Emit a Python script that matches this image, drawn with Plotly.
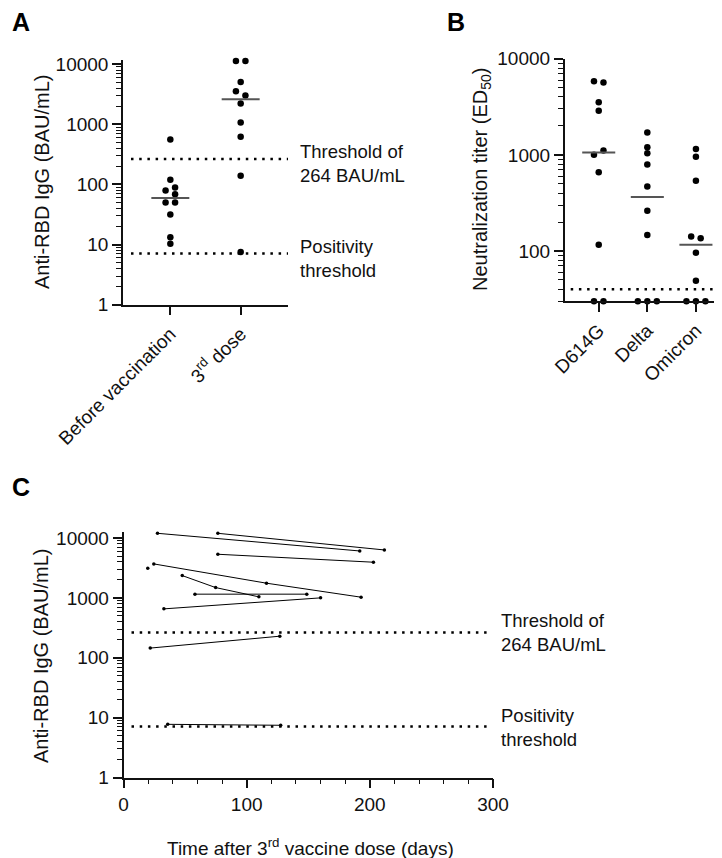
import numpy as np
import plotly.graph_objects as go

W, H = 722, 858
FONT = "Liberation Sans, Arial, Helvetica, sans-serif"

# ---------------- data ----------------
# Panel A: anti-RBD IgG (BAU/mL)
A_CATEGORIES = ["Before vaccination", "3<sup>rd</sup> dose"]
A_BEFORE = [560, 120, 89, 79, 69, 50, 50, 31.7, 13.3, 10.3]
A_THIRD = [3010, 3560, 11360, 11360, 5080, 2220, 1072, 620, 139, 7.5]
A_THRESHOLDS = [264, 7.1]
A_THRESHOLD_LABELS = ["Threshold of<br>264 BAU/mL", "Positivity<br>threshold"]

# Panel B: neutralization titer (ED50); 30 = plotted on the axis (below detection)
B_CATEGORIES = ["D614G", "Delta", "Omicron"]
B_D614G = [5640, 5820, 3530, 2880, 1110, 1000, 660, 116, 30, 30]
B_DELTA = [1706, 1202, 1040, 794, 469, 262, 147, 30, 30, 30]
B_OMICRON = [1154, 953, 537, 136, 142, 96, 49, 30, 30, 30]
B_THRESHOLD = 40

# Panel C: follow-up per subject (days after 3rd dose, BAU/mL)
C_DAYS = [
    [27.6, 191.8],
    [76.6, 211.8],
    [76.6, 202.9],
    [19.7],
    [24.6, 116.1, 192.9],
    [47.7, 74.8, 109.9],
    [58.0, 148.8],
    [32.8, 160.0],
    [21.7, 126.9],
    [35.9, 127.6],
]
C_VALUES = [
    [11970, 6070],
    [11970, 6310],
    [5350, 3940],
    [3130],
    [3690, 1758, 1026],
    [2355, 1486, 1040],
    [1153, 1153],
    [655, 1000],
    [145, 229],
    [7.73, 7.45],
]
C_THRESHOLDS = [264, 7.1]
C_THRESHOLD_LABELS = ["Threshold of<br>264 BAU/mL", "Positivity<br>threshold"]

# ---------------- layout geometry (pixels) ----------------
def fx(px):
    return px / W


def fy(py):
    return 1 - py / H


A_BOX = dict(x0=115, x1=280, y0=296.7, y1=51.7)
A_XR = [-0.673, 1.673]
A_YR = [0, 4.075]

B_BOX = dict(x0=556.7, x1=720, y0=293.3, y1=50.7)
B_XR = [-0.70, 2.66]
B_YR = [np.log10(30), 4.0]

C_BOX = dict(x0=115.5, x1=485, y0=769.5, y1=524)
C_XR = [0, 300]
C_YR = [0, 4.1]


def px_per_unit(box, xr):
    return (box["x1"] - box["x0"]) / (xr[1] - xr[0])


def px_per_decade(box, yr):
    return (box["y0"] - box["y1"]) / (yr[1] - yr[0])


def swarm_offsets(values, ppd, ppu, gap_px=5.0, step_px=9.5):
    """GraphPad-like horizontal spreading of overlapping dots."""
    n = len(values)
    y = np.log10(np.asarray(values, dtype=float)) * ppd
    order = sorted(range(n), key=lambda i: -y[i])
    clusters, cur = [], [order[0]]
    for a, b in zip(order[:-1], order[1:]):
        if abs(y[a] - y[b]) < gap_px:
            cur.append(b)
        else:
            clusters.append(cur)
            cur = [b]
    clusters.append(cur)
    off = np.zeros(n)
    step = step_px / ppu
    for c in clusters:
        if len(c) == 1:
            continue
        cd = sorted(c)
        vals = [values[i] for i in cd]
        if len(set(vals)) == 1:
            k = len(cd)
            for j, i in enumerate(cd):
                off[i] = (j - (k - 1) / 2) * step
        else:
            for j, i in enumerate(cd):
                off[i] = (0.5 if j % 2 == 0 else -0.5) * step
    return off


def log_minor_vals(yr):
    vals = []
    for p in range(int(np.floor(yr[0])) - 1, int(np.ceil(yr[1])) + 1):
        for k in range(2, 10):
            v = k * 10.0 ** p
            if yr[0] <= np.log10(v) <= yr[1]:
                vals.append(v)
    return vals


fig = go.Figure()

AXLINE = dict(showline=True, linecolor="#111", linewidth=1.5, ticks="outside",
              ticklen=9, tickwidth=1.5, tickcolor="#111", showgrid=False,
              zeroline=False, mirror=False, automargin=False,
              tickfont=dict(family=FONT, size=19, color="#111"))
DOT = "2.5px,5.7px"


def log_minor(yr):
    return dict(ticks="outside", ticklen=5, tickwidth=1.2, tickcolor="#111",
                tickmode="array", tickvals=log_minor_vals(yr), showgrid=False)


def scatter_panel(groups, xa, ya, box, xr, yr, half_w):
    ppu = px_per_unit(box, xr)
    ppd = px_per_decade(box, yr)
    for i, vals in enumerate(groups):
        off = swarm_offsets(vals, ppd, ppu)
        fig.add_trace(go.Scatter(
            x=i + off, y=vals, mode="markers", xaxis=xa, yaxis=ya,
            marker=dict(size=6.5, color="black"), cliponaxis=False,
            showlegend=False, hoverinfo="skip"))
        med = float(np.median(vals))
        fig.add_trace(go.Scatter(
            x=[i - half_w, i + half_w], y=[med, med], mode="lines",
            xaxis=xa, yaxis=ya, line=dict(color="#555", width=2),
            showlegend=False, hoverinfo="skip"))


def threshold_lines(values, xa, ya, x_from, x_to):
    for v in values:
        fig.add_trace(go.Scatter(
            x=[x_from, x_to], y=[v, v], mode="lines", xaxis=xa, yaxis=ya,
            line=dict(color="black", width=2.5, dash=DOT),
            showlegend=False, hoverinfo="skip"))


# Panel A
scatter_panel([A_BEFORE, A_THIRD], "x", "y", A_BOX, A_XR, A_YR, 0.27)
a_pad = 8 / px_per_unit(A_BOX, A_XR)
threshold_lines(A_THRESHOLDS, "x", "y", A_XR[0] + a_pad, A_XR[1])

# Panel B
scatter_panel([B_D614G, B_DELTA, B_OMICRON], "x2", "y2", B_BOX, B_XR, B_YR, 0.34)
b_pad = 6 / px_per_unit(B_BOX, B_XR)
threshold_lines([B_THRESHOLD], "x2", "y2", B_XR[0] + b_pad, B_XR[1])

# Panel C
c_pad = 8 / px_per_unit(C_BOX, C_XR)
threshold_lines(C_THRESHOLDS, "x3", "y3", C_XR[0] + c_pad, 295)
for d, v in zip(C_DAYS, C_VALUES):
    fig.add_trace(go.Scatter(
        x=d, y=v, mode="lines+markers", xaxis="x3", yaxis="y3",
        line=dict(color="black", width=1), marker=dict(size=3.5, color="black"),
        cliponaxis=False, showlegend=False, hoverinfo="skip"))

fig.update_layout(
    width=W, height=H, margin=dict(l=0, r=0, t=0, b=0, pad=0, autoexpand=False),
    paper_bgcolor="white", plot_bgcolor="white",
    font=dict(family=FONT, color="#111", size=19),
    xaxis=dict(domain=[fx(A_BOX["x0"]), fx(A_BOX["x1"])], range=A_XR,
               tickmode="array", tickvals=list(range(len(A_CATEGORIES))),
               ticktext=A_CATEGORIES, tickangle=-45, anchor="y", **AXLINE),
    yaxis=dict(domain=[fy(A_BOX["y0"]), fy(A_BOX["y1"])], type="log", range=A_YR,
               dtick=1, tickformat=".0f", minor=log_minor(A_YR), anchor="x", **AXLINE),
    xaxis2=dict(domain=[fx(B_BOX["x0"]), fx(B_BOX["x1"])], range=B_XR,
                tickmode="array", tickvals=list(range(len(B_CATEGORIES))),
                ticktext=B_CATEGORIES, tickangle=-45, anchor="y2", **AXLINE),
    yaxis2=dict(domain=[fy(B_BOX["y0"]), fy(B_BOX["y1"])], type="log", range=B_YR,
                dtick=1, tickformat=".0f", minor=log_minor(B_YR), anchor="x2", **AXLINE),
    xaxis3=dict(domain=[fx(C_BOX["x0"]), fx(C_BOX["x1"])], range=C_XR,
                dtick=100, minor=dict(ticks="outside", ticklen=5, tickwidth=1.2,
                                      tickcolor="#111", dtick=20, showgrid=False),
                anchor="y3", **AXLINE),
    yaxis3=dict(domain=[fy(C_BOX["y0"]), fy(C_BOX["y1"])], type="log", range=C_YR,
                dtick=1, tickformat=".0f", minor=log_minor(C_YR), anchor="x3", **AXLINE),
)

ann = []


def text(px, py, s, size=19, bold=False, angle=0, xanchor="left", yanchor="middle"):
    ann.append(dict(x=fx(px), y=fy(py), xref="paper", yref="paper", text=s,
                    showarrow=False, xanchor=xanchor, yanchor=yanchor,
                    textangle=angle, align="left",
                    font=dict(family=FONT, size=size, color="black" if bold else "#111",
                              weight="bold" if bold else "normal")))


# panel letters
text(13, 14, "A", size=25, bold=True, xanchor="center")
text(448, 14, "B", size=25, bold=True, xanchor="center")
text(12.5, 479, "C", size=25, bold=True, xanchor="center")

# axis titles
text(34, 174, "Anti-RBD IgG (BAU/mL)", size=20, angle=-90, xanchor="center")
text(473, 172, "Neutralization titer (ED<sub>50</sub>)", size=20, angle=-90, xanchor="center")
text(33, 648, "Anti-RBD IgG (BAU/mL)", size=20, angle=-90, xanchor="center")
text(302, 839, "Time after 3<sup>rd</sup> vaccine dose (days)", size=19, xanchor="center")

# threshold labels
text(290, 155, A_THRESHOLD_LABELS[0], size=18.5)
text(290, 250, A_THRESHOLD_LABELS[1], size=18.5)
text(491, 624.5, C_THRESHOLD_LABELS[0], size=18.5)
text(491, 719.5, C_THRESHOLD_LABELS[1], size=18.5)

fig.update_layout(annotations=ann)
fig.write_html("out.html")
